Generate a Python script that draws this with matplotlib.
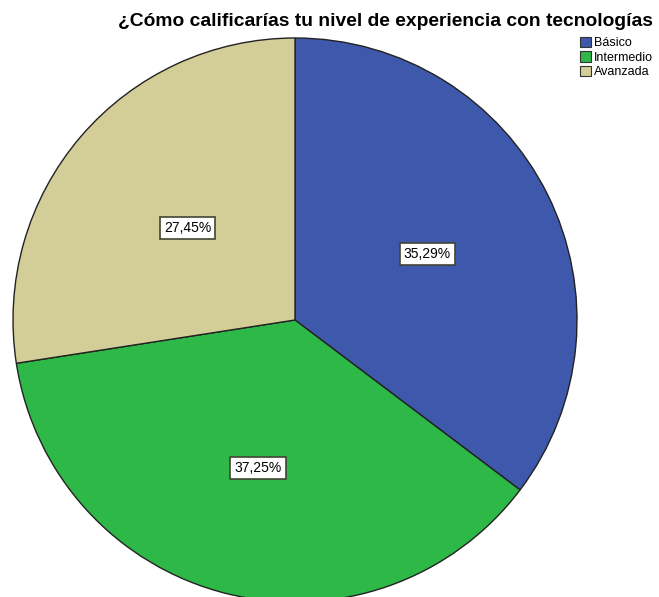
import numpy as np
import matplotlib.pyplot as plt
from matplotlib.patches import Patch

plt.rcParams['font.family'] = ['Liberation Sans', 'DejaVu Sans']

categorias = ["Básico", "Intermedio", "Avanzada"]
porcentajes = [35.29, 37.25, 27.45]
colores = ["#3E58AC", "#2EB848", "#D3CE97"]
dist_etiqueta = [0.524, 0.542, 0.502]

W, H = 659, 597
cx, cy, r = 295, 320, 282

fig = plt.figure(figsize=(W / 100, H / 100), dpi=100)
ax = fig.add_axes([0, 0, 1, 1])

wedges, textos = ax.pie(
    porcentajes, colors=colores, startangle=90, counterclock=False,
    labels=[f"{p:.2f}%".replace(".", ",") for p in porcentajes],
    labeldistance=0.5, radius=1, frame=True,
    wedgeprops=dict(edgecolor="#222222", linewidth=1.0),
    textprops=dict(fontsize=10, ha="center", va="center"),
)
for w, t, d in zip(wedges, textos, dist_etiqueta):
    ang = np.deg2rad((w.theta1 + w.theta2) / 2)
    t.set_position((d * np.cos(ang), d * np.sin(ang)))
    t.set_bbox(dict(boxstyle="square,pad=0.3", facecolor="white",
                    edgecolor="#444433", linewidth=1.2))
ax.set_xlim(-cx / r, (W - cx) / r)
ax.set_ylim(-(H - cy) / r, cy / r)
ax.axis("off")

fig.text(385 / W, 1 - 22 / H,
         "¿Cómo calificarías tu nivel de experiencia con tecnologías",
         ha="center", va="center", fontsize=13.9, fontweight="bold")

handles = [Patch(facecolor=c, edgecolor="#333333", linewidth=0.8) for c in colores]
fig.legend(handles, categorias, loc="upper left",
           bbox_to_anchor=(580 / W, 1 - 37 / H), frameon=False,
           fontsize=9, handlelength=0.9, handleheight=0.9,
           handletextpad=0.2, labelspacing=0.15, borderaxespad=0,
           borderpad=0)

fig.savefig("out.png", dpi=100)
